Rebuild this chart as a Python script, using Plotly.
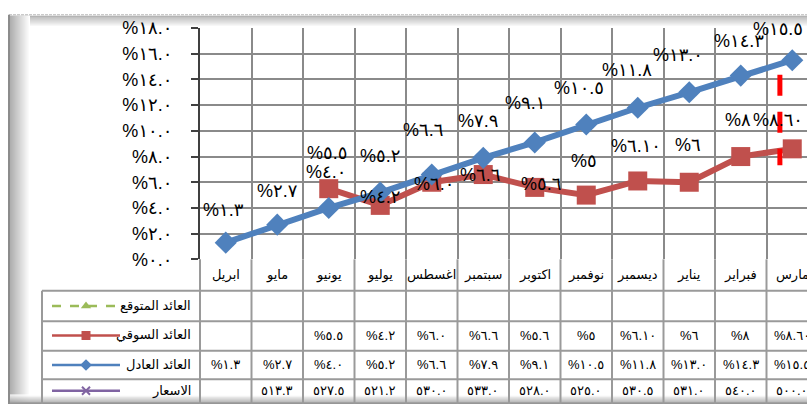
import plotly.graph_objects as go

# ---------------------------------------------------------------- data
months = ["ابريل", "مايو", "يونيو", "يوليو", "اغسطس", "سبتمبر",
          "اكتوبر", "نوفمبر", "ديسمبر", "يناير", "فبراير", "مارس"]

name_expected = "العائد المتوقع"
name_market = "العائد السوقي"
name_fair = "العائد العادل"
name_prices = "الاسعار"

# expected return has no values yet
expected_return = ["", "", "", "", "", "", "", "", "", "", "", ""]
# market return, kept as written so the labels keep their own format
market_return = ["", "", "5.5", "4.2", "6.0", "6.6", "5.6", "5", "6.10", "6", "8", "8.60"]
fair_return = ["1.3", "2.7", "4.0", "5.2", "6.6", "7.9", "9.1", "10.5", "11.8", "13.0", "14.3", "15.5"]
prices = ["", "513.3", "527.5", "521.2", "530.0", "533.0", "528.0", "525.0",
          "530.5", "531.0", "540.0", "500.0"]

y_ticks = [0, 2, 4, 6, 8, 10, 12, 14, 16, 18]

# ---------------------------------------------------------------- helpers
W, H = 807, 414
AR_DIGITS = str.maketrans("0123456789", "٠١٢٣٤٥٦٧٨٩")


def ar(s):
    return s.translate(AR_DIGITS)


def pct(s):
    return "%" + ar(s) if s else ""


def num(s):
    return float(s) if s else None


def px(x):
    return x / W


def py(y):
    return 1 - y / H


FONT = "Arial, 'Liberation Sans', 'DejaVu Sans', sans-serif"
BLUE = "#4f81bd"
RED = "#c0504d"
GREEN = "#9bbb59"
PURPLE = "#8064a2"
GRID = "#8a8a8a"
TABLE = "#9a9a9a"

PLOT_L, PLOT_T, PLOT_B = 200, 19, 262
COL_W = 51.5
xs = list(range(len(months)))

fig = go.Figure()

# ---------------------------------------------------------------- series
fig.add_trace(go.Scatter(
    x=xs, y=[num(v) for v in market_return], mode="lines+markers",
    line=dict(color=RED, width=6), connectgaps=False,
    marker=dict(symbol="square", size=19, color=RED),
    name=name_market, showlegend=False, cliponaxis=False))
fig.add_trace(go.Scatter(
    x=xs, y=[num(v) for v in fair_return], mode="lines+markers",
    line=dict(color=BLUE, width=6),
    marker=dict(symbol="diamond", size=17, color=BLUE),
    name=name_fair, showlegend=False, cliponaxis=False))

# data labels (label offsets in pixels from each point)
fair_off = [(-2, 33), (0, 34), (-3, 36), (0, 37), (-9, 45), (-5, 37),
            (-10, 39), (-7, 36), (-11, 38), (-11, 37), (-2, 35), (-14, 31)]
market_off = [(0, 0), (0, 0), (-2, 36), (0, 8), (2, -2), (-3, 0),
              (6, 3), (-2, 34), (-2, 35), (-1, 37), (-3, 37), (-14, 29)]

annotations = []
for i, v in enumerate(fair_return):
    dx, dy = fair_off[i]
    annotations.append(dict(x=i, y=num(v), xref="x", yref="y", text=pct(v),
                            showarrow=False, xshift=dx, yshift=dy,
                            font=dict(size=18, color="black", family=FONT)))
for i, v in enumerate(market_return):
    if not v:
        continue
    dx, dy = market_off[i]
    annotations.append(dict(x=i, y=num(v), xref="x", yref="y", text=pct(v),
                            showarrow=False, xshift=dx, yshift=dy,
                            font=dict(size=18, color="black", family=FONT)))

shapes = []

# red dashed marker line between the last two months
shapes.append(dict(type="line", xref="x", yref="y", x0=10.76, x1=10.76,
                   y0=14.37, y1=7.33, line=dict(color="#ff0000", width=5, dash="21px,16px"),
                   layer="above"))

# ---------------------------------------------------------------- data table
ROW_LINES = [295, 327, 358, 388]
ROW_CENTERS = {"head": 278, "exp": 311, "mkt": 342, "fair": 373, "price": 400}
TABLE_LEFT = 42

for i in range(len(months) - 1):
    shapes.append(dict(type="line", xref="x", yref="paper", x0=i + 0.5, x1=i + 0.5,
                       y0=py(PLOT_B), y1=0, line=dict(color=TABLE, width=2)))
shapes.append(dict(type="line", xref="paper", yref="paper", x0=px(PLOT_L), x1=px(PLOT_L),
                   y0=py(PLOT_B), y1=0, line=dict(color=TABLE, width=2)))
shapes.append(dict(type="line", xref="paper", yref="paper", x0=px(TABLE_LEFT), x1=px(TABLE_LEFT),
                   y0=py(ROW_LINES[0]), y1=0, line=dict(color=TABLE, width=2)))
for yl in ROW_LINES:
    shapes.append(dict(type="line", xref="paper", yref="paper", x0=px(TABLE_LEFT), x1=1,
                       y0=py(yl), y1=py(yl), line=dict(color=TABLE, width=2)))

cell_font = dict(size=13, color="black", family=FONT)
rows = [("head", months, lambda s: s),
        ("exp", expected_return, pct),
        ("mkt", market_return, pct),
        ("fair", fair_return, pct),
        ("price", prices, ar)]
for key, values, fmt in rows:
    for i, v in enumerate(values):
        t = fmt(v)
        if not t:
            continue
        annotations.append(dict(x=i, y=py(ROW_CENTERS[key]), xref="x", yref="paper",
                                text=t, showarrow=False, font=cell_font,
                                xanchor="center", yanchor="middle"))

# legend keys in the first table column
legend_rows = [("exp", name_expected, GREEN, "dash", "triangle-up", 9, 0),
               ("mkt", name_market, RED, "solid", "square", 9, 0),
               ("fair", name_fair, BLUE, "solid", "diamond", 9, 0),
               ("price", name_prices, PURPLE, "solid", "x-thin", 8, 2)]
for key, label, color, dash, symbol, msize, mline in legend_rows:
    yc = ROW_CENTERS[key]
    fig.add_trace(go.Scatter(x=[52, 120], y=[yc, yc], mode="lines",
                             line=dict(color=color, width=2.5, dash=dash),
                             xaxis="x2", yaxis="y2", showlegend=False, hoverinfo="skip"))
    fig.add_trace(go.Scatter(x=[86], y=[yc], mode="markers",
                             marker=dict(symbol=symbol, size=msize, color=color,
                                         line=dict(color=color, width=mline)),
                             xaxis="x2", yaxis="y2", showlegend=False, hoverinfo="skip"))
    annotations.append(dict(x=px(193), y=py(yc), xref="paper", yref="paper", text=label,
                            showarrow=False, xanchor="right", yanchor="middle", font=cell_font))


# ---------------------------------------------------------------- bevelled frame
def strip(x0, y0, x1, y1, color):
    shapes.append(dict(type="rect", xref="paper", yref="paper", x0=px(x0), x1=px(x1),
                       y0=py(y0), y1=py(y1), line=dict(width=0), fillcolor=color,
                       layer="below"))


def shade(a, b, t):
    c = int(a + (b - a) * t)
    return f"rgb({c},{c},{c})"


# top band
for k in range(12):
    strip(9, 6 + k, W, 7 + k, shade(160, 255, k / 11))
# left band
for k in range(20):
    strip(10 + k, 6, 11 + k, H, shade(175, 255, k / 19))
# bottom band
for k in range(10):
    strip(9, H - 1 - k, W, H - k, shade(150, 255, k / 9))
shapes.append(dict(type="line", xref="paper", yref="paper", x0=px(9), x1=1, y0=py(5), y1=py(5),
                   line=dict(color="#b8b8b8", width=1, dash="3px,1px"), layer="below"))
shapes.append(dict(type="line", xref="paper", yref="paper", x0=px(9), x1=px(9), y0=py(5), y1=0,
                   line=dict(color="#8c8c8c", width=2), layer="below"))

# ---------------------------------------------------------------- layout
x_right = -0.5 + (W - PLOT_L) / COL_W
fig.update_layout(
    width=W, height=H,
    margin=dict(l=0, r=0, t=0, b=0),
    paper_bgcolor="white", plot_bgcolor="rgba(0,0,0,0)",
    font=dict(family=FONT, color="black"),
    xaxis=dict(domain=[px(PLOT_L), 1], range=[-0.5, x_right], showticklabels=False,
               ticks="", showgrid=True, gridcolor=GRID, gridwidth=2,
               tick0=0.5, dtick=1, zeroline=False, showline=False, fixedrange=True),
    yaxis=dict(domain=[py(PLOT_B), py(PLOT_T)], range=[0, 18],
               tickvals=y_ticks, ticktext=[pct(f"{v}.0") for v in y_ticks],
               tickfont=dict(size=18, family=FONT, color="black"),
               ticks="outside", ticklen=7, tickwidth=2, tickcolor="#404040",
               ticklabelstandoff=15,
               showgrid=True, gridcolor=GRID, gridwidth=2, zeroline=False,
               showline=True, linecolor="#404040", linewidth=2, fixedrange=True),
    xaxis2=dict(domain=[0, 1], range=[0, W], visible=False, anchor="y2", fixedrange=True),
    yaxis2=dict(domain=[0, 1], range=[H, 0], visible=False, anchor="x2", fixedrange=True),
    shapes=shapes,
    annotations=annotations,
)

fig.write_html("out.html")
